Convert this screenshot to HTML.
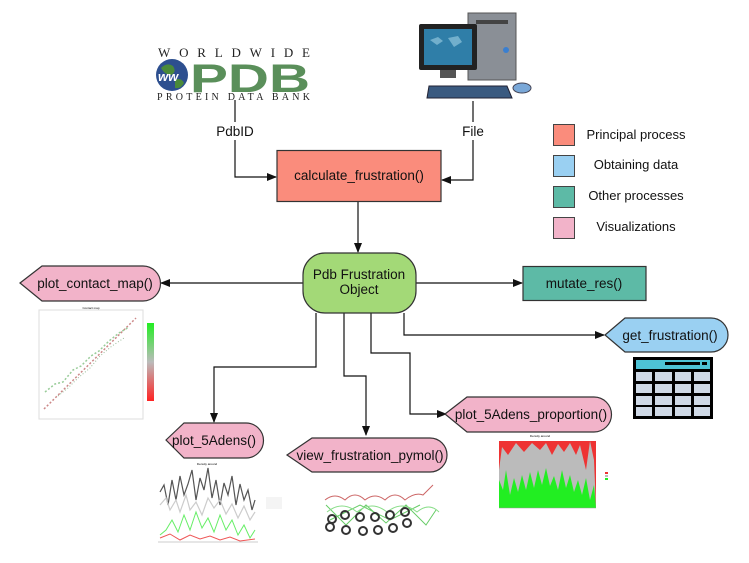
<!DOCTYPE html>
<html><head><meta charset="utf-8"><style>
html,body{margin:0;padding:0;background:#fff}
svg{display:block}
</style></head><body>
<svg width="749" height="563" viewBox="0 0 749 563" xmlns="http://www.w3.org/2000/svg" font-family="Liberation Sans, sans-serif">
<defs>
<marker id="a" markerWidth="10" markerHeight="8" refX="9" refY="4" orient="auto" markerUnits="userSpaceOnUse"><path d="M0,0 L10,4 L0,8 Z" fill="#111"/></marker>
</defs>

<!-- PDB logo -->
<text x="158" y="57" style="font-family:'Liberation Serif',serif;font-size:13px" textLength="152" lengthAdjust="spacing" fill="#222">WORLDWIDE</text>
<circle cx="172" cy="75" r="16" fill="#2d4f8f"/>
<path d="M161,68 q6,-6 12,-2 q4,6 -2,9 q-6,0 -10,-7Z M175,80 q6,-3 9,3 q-3,6 -9,5Z" fill="#4a8a3a"/>
<text x="158" y="81" style="font-size:13px;font-weight:bold;font-style:italic" fill="#fff">ww</text>
<text x="190" y="92" style="font-family:'Liberation Sans',sans-serif;font-size:40px;font-weight:900" textLength="120" lengthAdjust="spacingAndGlyphs" fill="#5a8f5a">PDB</text>
<text x="157" y="100" style="font-family:'Liberation Serif',serif;font-size:10px" textLength="153" lengthAdjust="spacing" fill="#222">PROTEIN DATA BANK</text>

<!-- Computer -->
<rect x="468" y="13" width="48" height="67" fill="#8a8f96" stroke="#555"/>
<rect x="476" y="20" width="32" height="4" fill="#444"/>
<circle cx="506" cy="50" r="3" fill="#3a7fd0"/>
<rect x="419" y="24" width="58" height="46" rx="2" fill="#222"/>
<rect x="424" y="29" width="48" height="36" fill="#2f7ea8"/>
<path d="M430,40 l8,-3 l5,4 l-6,4Z M448,38 l10,-2 l4,6 l-8,5Z" fill="#8fc4dc" opacity=".7"/>
<rect x="440" y="70" width="16" height="8" fill="#555"/>
<path d="M429,86 L507,86 L512,98 L427,98 Z" fill="#3a5a80" stroke="#223"/>
<ellipse cx="522" cy="88" rx="9" ry="5" fill="#7aa8d8" stroke="#445"/>

<!-- legend -->
<rect x="553.5" y="124.5" width="21" height="21" fill="#fa8c7c" stroke="#444"/>
<rect x="553.5" y="155.5" width="21" height="21" fill="#9ad0f2" stroke="#444"/>
<rect x="553.5" y="186.5" width="21" height="21" fill="#5dbaa6" stroke="#444"/>
<rect x="553.5" y="217.5" width="21" height="21" fill="#f2b3c9" stroke="#444"/>
<g font-size="13" fill="#111" text-anchor="middle">
<text x="636" y="139">Principal process</text>
<text x="636" y="169">Obtaining data</text>
<text x="636" y="200">Other processes</text>
<text x="636" y="231">Visualizations</text>
</g>

<!-- connectors -->
<g stroke="#111" stroke-width="1.2" fill="none">
<path d="M235,100 V177 H276" marker-end="url(#a)"/>
<path d="M473,101 V180 H442" marker-end="url(#a)"/>
<path d="M358,202 V252" marker-end="url(#a)"/>
<path d="M303,283 H161" marker-end="url(#a)"/>
<path d="M416,283 H522" marker-end="url(#a)"/>
<path d="M404,313 V335 H604" marker-end="url(#a)"/>
<path d="M371,313 V353 H410 V414 H446" marker-end="url(#a)"/>
<path d="M344,313 V376 H366 V435" marker-end="url(#a)"/>
<path d="M316,313 V367 H214 V422" marker-end="url(#a)"/>
</g>
<rect x="215" y="122" width="40" height="18" fill="#fff"/>
<text x="235" y="136" font-size="13.5" text-anchor="middle" fill="#111">PdbID</text>
<rect x="460" y="122" width="26" height="18" fill="#fff"/>
<text x="473" y="136" font-size="13.5" text-anchor="middle" fill="#111">File</text>

<!-- nodes -->
<rect x="277" y="150.5" width="164" height="51" fill="#fa8c7c" stroke="#333" stroke-width="1.2"/>
<text x="359" y="180" font-size="13.5" text-anchor="middle" fill="#111">calculate_frustration()</text>

<rect x="303" y="253" width="113" height="60" rx="22" fill="#a3d977" stroke="#333" stroke-width="1.2"/>
<text x="359" y="279" font-size="13.5" text-anchor="middle" fill="#111">Pdb Frustration</text>
<text x="359" y="294" font-size="13.5" text-anchor="middle" fill="#111">Object</text>

<rect x="523" y="266.5" width="123" height="34" fill="#5dbaa6" stroke="#333" stroke-width="1.2"/>
<text x="584" y="288" font-size="13.5" text-anchor="middle" fill="#111">mutate_res()</text>

<g stroke="#333" stroke-width="1.2">
<path d="M20,283 L42,266 L143,266 A17.5,17.5 0 0 1 143,301 L42,301 Z" fill="#f2b3c9"/>
<path d="M605,335 L625,318 L711,318 A17,17 0 0 1 711,352 L625,352 Z" fill="#9ad0f2"/>
<path d="M445,414 L467,397 L594,397 A17.5,17.5 0 0 1 594,432 L467,432 Z" fill="#f2b3c9"/>
<path d="M287,455 L312,438 L430,438 A17,17 0 0 1 430,472 L312,472 Z" fill="#f2b3c9"/>
<path d="M166,440 L184,423 L246,423 A17.5,17.5 0 0 1 246,458 L184,458 Z" fill="#f2b3c9"/>
</g>
<g font-size="13.5" fill="#111" text-anchor="middle">
<text x="95" y="288">plot_contact_map()</text>
<text x="670" y="340">get_frustration()</text>
<text x="531" y="419">plot_5Adens_proportion()</text>
<text x="370" y="460">view_frustration_pymol()</text>
<text x="214" y="445">plot_5Adens()</text>
</g>

<!-- table icon -->
<rect x="633" y="357" width="80" height="62" fill="#000"/>
<rect x="636" y="360" width="74" height="9" fill="#4ec3d6"/>
<rect x="665" y="362" width="35" height="3" fill="#000"/>
<rect x="702" y="362" width="5" height="3" fill="#000"/>
<g fill="#cfd9e6">
<rect x="636" y="372" width="16" height="9"/><rect x="655" y="372" width="17" height="9"/><rect x="675" y="372" width="16" height="9"/><rect x="694" y="372" width="16" height="9"/>
<rect x="636" y="384" width="16" height="9"/><rect x="655" y="384" width="17" height="9"/><rect x="675" y="384" width="16" height="9"/><rect x="694" y="384" width="16" height="9"/>
<rect x="636" y="396" width="16" height="9"/><rect x="655" y="396" width="17" height="9"/><rect x="675" y="396" width="16" height="9"/><rect x="694" y="396" width="16" height="9"/>
<rect x="636" y="407" width="16" height="9"/><rect x="655" y="407" width="17" height="9"/><rect x="675" y="407" width="16" height="9"/><rect x="694" y="407" width="16" height="9"/>
</g>

<!-- contact map plot -->
<rect x="39" y="310" width="104" height="109" fill="#fff" stroke="#ddd"/>
<text x="91" y="309" font-size="3" text-anchor="middle">Contact map</text>
<path d="M44,409 L136,318" stroke="#c88" stroke-width="1.5" stroke-dasharray="2,2"/>
<path d="M45,392 l10,-8 l8,-2 l10,-12 l8,-4 l10,-10 l8,-5 l10,-10 l10,-8 l10,-6" stroke="#9c9" stroke-width="1.5" fill="none" stroke-dasharray="2,2"/>
<path d="M58,396 l10,-8 l10,-10 l12,-10 l10,-12 l12,-10 l12,-8" stroke="#9b9" stroke-width="1" fill="none" stroke-dasharray="1,2"/>
<defs><linearGradient id="cg" x1="0" y1="0" x2="0" y2="1"><stop offset="0" stop-color="#2e2"/><stop offset=".5" stop-color="#bbb"/><stop offset="1" stop-color="#f22"/></linearGradient></defs>
<rect x="147" y="323" width="7" height="78" fill="url(#cg)"/>

<!-- 5Adens plot -->
<text x="207" y="465" font-size="3" text-anchor="middle">Density around</text>
<polyline points="160,492 164,485 168,505 172,480 176,500 180,476 184,495 188,484 192,470 196,500 200,478 204,490 208,468 212,498 216,480 220,505 224,483 228,495 232,476 236,505 240,484 244,500 248,490 252,510 255,500" fill="none" stroke="#555" stroke-width="1.2"/>
<polyline points="160,505 166,498 170,510 176,500 180,512 186,495 190,510 196,502 202,515 208,498 214,508 220,500 226,514 232,504 238,518 244,506 250,520 255,512" fill="none" stroke="#ccc" stroke-width="1.2"/>
<polyline points="160,535 166,530 172,520 178,532 184,515 190,530 196,512 202,528 208,518 214,532 220,515 226,530 232,520 238,535 244,525 250,538 255,530" fill="none" stroke="#6e6" stroke-width="1"/>
<polyline points="160,538 170,534 180,540 190,535 200,539 210,536 220,540 230,537 240,541 255,539" fill="none" stroke="#e55" stroke-width="1"/>
<line x1="158" y1="542" x2="258" y2="542" stroke="#999" stroke-width=".5"/>
<rect x="266" y="497" width="16" height="12" fill="#f4f4f4"/>

<!-- pymol -->
<g fill="none" stroke-width="1">
<path d="M325,500 q10,-8 20,0 q10,-10 20,0 q10,-8 20,0 q10,-10 20,0 q10,-8 18,-5 l10,-10" stroke="#c66"/>
<path d="M326,505 l20,20 l20,-20 l20,18 l20,-18 l20,20 l10,-15 M330,520 l30,-15 l30,15 l30,-15" stroke="#6c6"/>
<path d="M327,512 q15,-12 30,0 q15,-12 30,0 q15,-12 30,0 q12,-10 22,0" stroke="#8d8"/>
</g>
<g fill="none" stroke="#333" stroke-width="2">
<circle cx="332" cy="519" r="4"/><circle cx="345" cy="515" r="4"/><circle cx="360" cy="517" r="4"/><circle cx="375" cy="517" r="4"/><circle cx="390" cy="515" r="4"/><circle cx="405" cy="512" r="4"/>
<circle cx="330" cy="527" r="4"/><circle cx="346" cy="530" r="4"/><circle cx="363" cy="531" r="4"/><circle cx="378" cy="530" r="4"/><circle cx="393" cy="528" r="4"/><circle cx="407" cy="523" r="4"/>
</g>

<!-- proportion plot -->
<text x="540" y="437" font-size="3" text-anchor="middle">Density around</text>
<rect x="499" y="441" width="97" height="67" fill="#bbb"/>
<path d="M499,441 H596 V508 L594,460 L590,441 L586,470 L580,445 L576,455 L570,443 L564,452 L558,444 L552,455 L546,443 L540,450 L532,443 L524,452 L516,443 L508,455 L502,447 L499,470 Z" fill="#e33"/>
<path d="M499,508 L499,480 L503,490 L506,470 L510,495 L514,478 L518,492 L522,475 L526,490 L530,472 L534,488 L538,470 L542,485 L546,468 L550,486 L554,476 L558,490 L562,470 L566,488 L570,475 L574,492 L578,480 L582,495 L586,478 L590,500 L594,485 L596,508 Z" fill="#2e2"/>
<rect x="605" y="472" width="3" height="2" fill="#e33"/><rect x="605" y="475" width="3" height="2" fill="#bbb"/><rect x="605" y="478" width="3" height="2" fill="#2e2"/>
<line x1="499" y1="508" x2="596" y2="508" stroke="#999" stroke-width=".5"/>
</svg>
</body></html>
